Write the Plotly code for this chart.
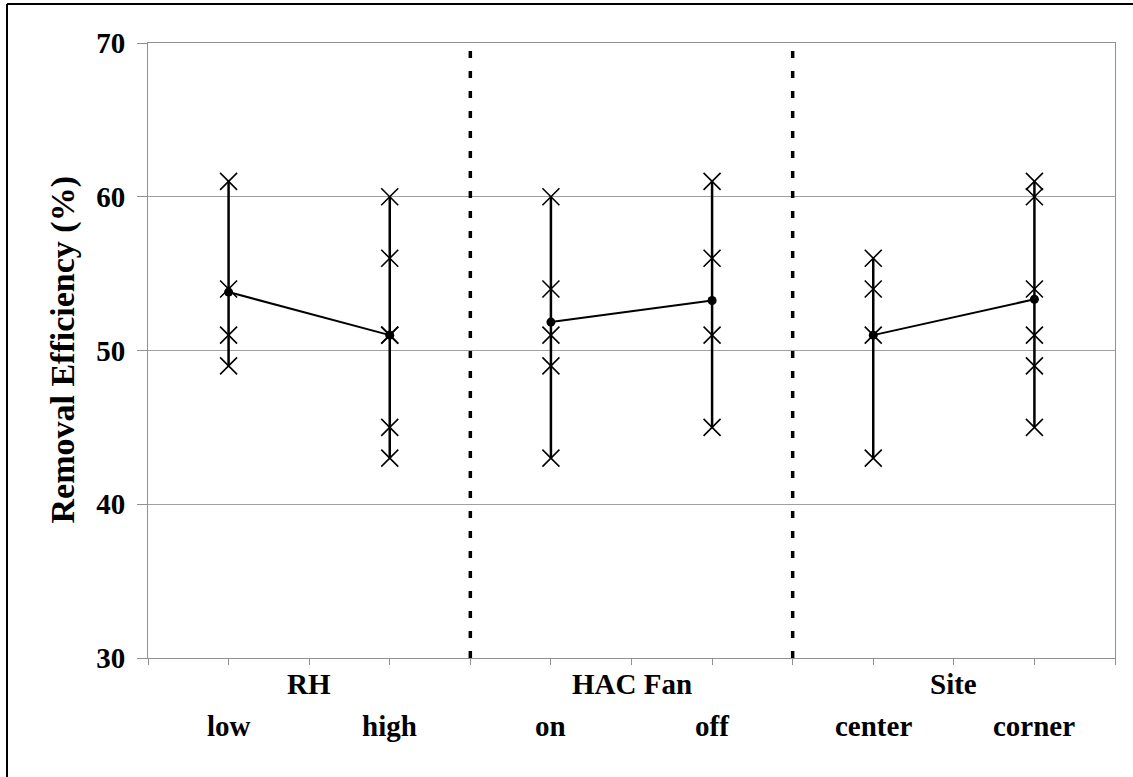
import plotly.graph_objects as go

# ---- data ----
groups = ["RH", "HAC Fan", "Site"]
levels = ["low", "high", "on", "off", "center", "corner"]
level_pos = [1, 3, 5, 7, 9, 11]
group_pos = [2, 6, 10]
separators = [4, 8]

rh_low = [61, 54, 51, 49]
rh_high = [60, 56, 51, 51, 45, 43]
hac_on = [60, 54, 51, 49, 43]
hac_off = [61, 56, 51, 45]
site_center = [56, 54, 51, 43]
site_corner = [61, 60, 54, 51, 49, 45]
values = [rh_low, rh_high, hac_on, hac_off, site_center, site_corner]

means = [53.8, 51.0, 51.85, 53.25, 51.0, 53.33]

y_ticks = [30, 40, 50, 60, 70]

FONT = "Liberation Serif"

fig = go.Figure()

# vertical range lines
for xp, vals in zip(level_pos, values):
    fig.add_trace(go.Scatter(
        x=[xp, xp], y=[min(vals), max(vals)], mode="lines",
        line=dict(color="black", width=2.5), hoverinfo="skip", showlegend=False))

# crosses
for xp, vals in zip(level_pos, values):
    fig.add_trace(go.Scatter(
        x=[xp] * len(vals), y=vals, mode="markers",
        marker=dict(symbol="x-thin", size=17, line=dict(color="black", width=1.6)),
        showlegend=False))

# mean lines per group
for g in range(3):
    fig.add_trace(go.Scatter(
        x=level_pos[2 * g:2 * g + 2], y=means[2 * g:2 * g + 2], mode="lines+markers",
        line=dict(color="black", width=2),
        marker=dict(symbol="circle", size=9, color="black"),
        showlegend=False))

shapes = []
for s in separators:
    shapes.append(dict(type="line", xref="x", yref="paper", x0=s, x1=s, y0=0, y1=1,
                       line=dict(color="black", width=3.5, dash="7px,13px")))

# outer border (top & left visible)
W, H = 1133, 777
ml, mr, mt, mb = 148, 18, 43, 119
pw, ph = W - ml - mr, H - mt - mb
def px_to_paper_x(px):
    return (px - ml) / pw
def px_to_paper_y(py):
    return (H - mb - py) / ph
shapes.append(dict(type="line", xref="paper", yref="paper",
                   x0=px_to_paper_x(7), x1=px_to_paper_x(1140),
                   y0=px_to_paper_y(4), y1=px_to_paper_y(4),
                   line=dict(color="black", width=2)))
shapes.append(dict(type="line", xref="paper", yref="paper",
                   x0=px_to_paper_x(7), x1=px_to_paper_x(7),
                   y0=px_to_paper_y(4), y1=px_to_paper_y(790),
                   line=dict(color="black", width=2)))

annotations = []
for gp, gname in zip(group_pos, groups):
    annotations.append(dict(x=gp, y=0, xref="x", yref="paper", text="<b>%s</b>" % gname,
                            showarrow=False, yanchor="middle", xanchor="center", yshift=-26,
                            font=dict(family=FONT, size=29, color="black")))
for lp, lname in zip(level_pos, levels):
    annotations.append(dict(x=lp, y=0, xref="x", yref="paper", text="<b>%s</b>" % lname,
                            showarrow=False, yanchor="middle", xanchor="center", yshift=-68,
                            font=dict(family=FONT, size=29, color="black")))
annotations.append(dict(x=px_to_paper_x(62), y=0.5, xref="paper", yref="paper",
                        text="<b>Removal Efficiency (%)</b>", textangle=-90, showarrow=False,
                        xanchor="center", yanchor="middle",
                        font=dict(family=FONT, size=34, color="black")))

fig.update_layout(
    width=W, height=H,
    margin=dict(l=ml, r=mr, t=mt, b=mb, pad=0),
    paper_bgcolor="white", plot_bgcolor="white",
    shapes=shapes, annotations=annotations,
    xaxis=dict(range=[0, 12], tickvals=list(range(13)), showticklabels=False,
               ticks="outside", ticklen=6, tickcolor="#909090", tickwidth=1,
               showgrid=False, zeroline=False, showline=True, linecolor="#909090",
               linewidth=1, mirror=True),
    yaxis=dict(range=[30, 70], tickvals=y_ticks, ticks="outside", ticklen=10,
               tickcolor="#909090", tickwidth=1, showgrid=True, gridcolor="#a0a0a0",
               gridwidth=1, zeroline=False, showline=True, linecolor="#909090",
               linewidth=1, mirror=True, ticklabelstandoff=6,
               tickfont=dict(family=FONT, size=29, color="black", weight="bold")),
)

fig.write_html("out.html", config={"displayModeBar": False},
               post_script="document.body.style.margin='0';document.body.style.overflow='hidden';")
